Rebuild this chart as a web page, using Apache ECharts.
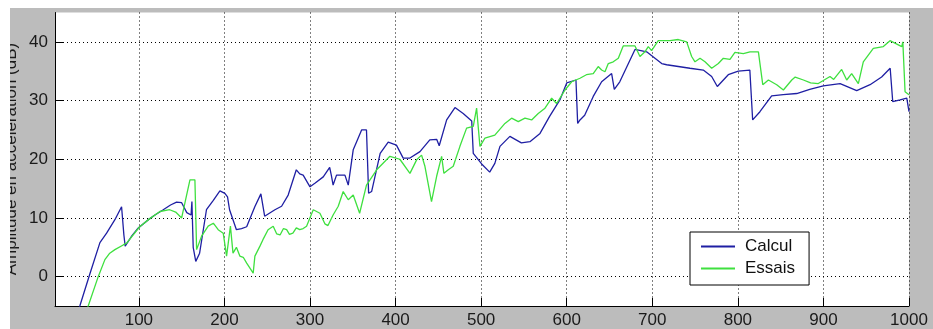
<!DOCTYPE html>
<html>
<head>
<meta charset="utf-8">
<script src="https://cdn.jsdelivr.net/npm/echarts@6/dist/echarts.min.js"></script>
<style>
  html, body { margin: 0; padding: 0; background: #ffffff; }
  #chart { position: absolute; left: 10px; top: 8px; width: 923px; height: 321px; }
</style>
</head>
<body>
<div id="chart"></div>
<script>
// Frequency (Hz) and acceleration amplitude (dB) — computed response
const calculX = [28, 31, 42.8, 54.5, 62.3, 72, 79.8, 82.5, 84, 92, 99.3, 112, 118.8, 128.5, 137, 144, 150, 156, 161, 162, 163.5, 166.5, 171, 179, 187, 194.7, 200.5, 203.6, 206, 214, 220, 226, 235.5, 242.6, 247, 259, 266.8, 274.5, 284, 288, 292, 300, 305.7, 315.5, 323, 325, 327, 331, 340.8, 344.7, 350.5, 354.5, 360.3, 366, 368.5, 372, 382, 391.4, 401, 408.9, 416.8, 428.5, 440, 448, 451, 459.7, 469.4, 479, 489, 490.8, 500.6, 510, 516, 522, 533.6, 547, 557, 568.8, 580, 592, 600, 610.8, 612.8, 615.5, 621, 631, 640.8, 652.5, 655.6, 662, 679.8, 693.4, 711, 716.8, 744, 759.6, 769.4, 776, 788.8, 800.5, 814, 817.3, 825.8, 839.5, 853, 868.8, 884, 899.8, 919.5, 938.9, 954.5, 968, 978, 981, 989.6, 997.4, 1000];
const calculY = [-6.3, -5, 0.5, 5.8, 7.4, 9.7, 11.9, 7.1, 5.2, 7, 8.3, 9.8, 10.5, 11.4, 12.2, 12.7, 12.6, 10.9, 10.5, 12.8, 5, 2.6, 4, 11.4, 13, 14.6, 14.2, 13.6, 11.4, 8, 8.2, 8.5, 11.9, 14.1, 10.3, 11.4, 12, 13.9, 18.2, 17.5, 17.3, 15.3, 15.9, 17, 18.6, 17.2, 15.6, 17.3, 17.3, 15.6, 21.6, 23, 25, 25, 14.2, 14.5, 21, 22.9, 22.4, 20.2, 20.2, 21.3, 23.3, 23.4, 22.3, 26.7, 28.8, 27.8, 26.5, 21, 19.2, 17.8, 19.3, 22.2, 23.9, 22.8, 23, 24.4, 27.3, 30.1, 33, 33.5, 26.1, 26.7, 27.5, 30.7, 33.2, 34.6, 31.9, 33.2, 38.7, 38.3, 36.3, 36.1, 35.5, 35.2, 34.1, 32.4, 34.4, 35, 35.2, 26.7, 28.1, 30.8, 31, 31.2, 31.9, 32.5, 32.9, 31.7, 32.7, 34, 35.5, 29.8, 30.1, 30.4, 28.1];

// Measured response
const essaisX = [38, 40.8, 52.5, 60.3, 66, 72, 81.7, 85.7, 101, 112, 124.6, 136, 143, 150, 159.7, 165.5, 167.5, 173.3, 181, 187, 192.7, 198.6, 202.5, 207, 210, 214, 218, 222, 226, 230, 233.6, 235.6, 241.5, 245, 251, 257, 261, 265, 269, 272.7, 276, 280, 284, 288, 292, 296, 303.8, 311.6, 317.4, 321, 327, 333, 338.8, 344.7, 350.5, 358, 366, 377.9, 393.4, 405, 416.8, 424.6, 430.4, 434.3, 442, 448, 453.8, 456.5, 461.6, 467.4, 475.2, 483, 490.8, 494.7, 496.6, 498.6, 504.4, 516, 527.8, 535.6, 543.4, 551.2, 559, 566.7, 574.6, 582.4, 588.2, 598, 605.8, 615.5, 623, 631, 636.8, 640.8, 644.7, 648.6, 654.4, 660.3, 666, 679.8, 685.6, 691.4, 695.3, 699.2, 707, 720.7, 730.4, 740.2, 746, 749.9, 755.8, 761.6, 769.4, 777.2, 783, 790.8, 796.6, 806.4, 814.2, 824, 829.1, 835.7, 845.4, 853.2, 863, 867, 876.6, 885, 894, 907.7, 912, 921.3, 927.2, 933, 940.8, 946.6, 958.3, 970, 977.8, 991.5, 992.8, 995.4, 1000];
const essaisY = [-6.3, -5, 0, 2.9, 4, 4.6, 5.4, 5.7, 8.5, 9.8, 11.1, 11.4, 11, 10, 16.5, 16.5, 4.6, 6.9, 8.6, 9.1, 8, 7.4, 3.5, 8.6, 4, 5, 3.5, 3.3, 2.3, 1.4, 0.6, 3.5, 5.2, 6.3, 8, 8.6, 7.3, 7.1, 8.2, 8, 7.2, 7.4, 8.3, 8, 8.2, 8.6, 11.4, 10.8, 9, 8.7, 10.5, 12, 14.5, 13.1, 13.9, 10.8, 15.6, 18.2, 20.5, 20, 17.6, 19.9, 20.7, 18.8, 12.8, 17.1, 20.5, 17.6, 18.2, 18.8, 22.2, 25.3, 25.6, 28.7, 25.5, 22.2, 23.6, 24.1, 26.1, 27, 26.4, 27, 26.7, 27.8, 28.7, 30.4, 29.5, 31.8, 33.2, 33.8, 34.4, 34.6, 35.8, 35.2, 34.9, 36.3, 36.6, 37.2, 39.3, 39.3, 37.5, 38.3, 39.2, 38.5, 40.2, 40.2, 40.4, 40, 37.5, 36.6, 37.2, 36.6, 35.5, 36.3, 37.2, 37, 38.2, 38, 38.3, 38.3, 32.7, 33.5, 32.7, 31.8, 33.5, 34, 33.5, 33, 32.9, 34.1, 33.6, 35.3, 33.5, 34.6, 32.9, 36.6, 38.9, 39.2, 40.2, 39.2, 40, 31.5, 31];

// Tick values
const xTicks = [100, 200, 300, 400, 500, 600, 700, 800, 900, 1000];
const yTicks = [0, 10, 20, 30, 40];

const seriesNames = ['Calcul', 'Essais'];
const yAxisTitle = 'Amplitude en accélération (dB)';

const pairs = (xs, ys) => xs.map((x, i) => [x, ys[i]]);
const FONT = '"Liberation Sans", Arial, Helvetica, sans-serif';
const gridDots = { color: '#000000', width: 1, type: [1, 3] };
const plain = v => String(v);

const chart = echarts.init(document.getElementById('chart'), null, { renderer: 'canvas' });
chart.setOption({
  animation: false,
  backgroundColor: '#bcbcbc',
  grid: {
    left: 45, right: 24, top: 4.5, bottom: 22.5,
    show: true, backgroundColor: '#ffffff', borderWidth: 0
  },
  xAxis: {
    type: 'value', min: 2, max: 1000,
    axisLine: { show: true, onZero: false, lineStyle: { color: '#000000', width: 1 } },
    axisTick: { show: true, inside: true, length: 8, customValues: xTicks, lineStyle: { color: '#000000' } },
    axisLabel: { customValues: xTicks, formatter: plain, color: '#1a1a1a', fontSize: 17, fontFamily: FONT, margin: 6 },
    splitLine: { show: true, customValues: xTicks, lineStyle: gridDots }
  },
  yAxis: {
    type: 'value', min: -5, max: 45,
    axisLine: { show: true, onZero: false, lineStyle: { color: '#000000', width: 1 } },
    axisTick: { show: true, inside: true, length: 8, customValues: yTicks, lineStyle: { color: '#000000' } },
    axisLabel: { customValues: yTicks, formatter: plain, color: '#1a1a1a', fontSize: 17, fontFamily: FONT, margin: 7 },
    splitLine: { show: true, customValues: yTicks, lineStyle: gridDots }
  },
  legend: {
    orient: 'vertical',
    left: 680, top: 224,
    backgroundColor: '#ffffff',
    borderColor: '#000000', borderWidth: 1, borderRadius: 0,
    padding: [6, 14, 8, 10],
    itemWidth: 34, itemHeight: 14, itemGap: 5,
    itemStyle: { opacity: 0 },
    textStyle: { fontSize: 17, color: '#111111', fontFamily: FONT, padding: [0, 0, 0, 5] },
    data: seriesNames
  },
  graphic: [{
    type: 'text',
    x: 9.5, y: 151,
    rotation: Math.PI / 2,
    style: {
      text: yAxisTitle,
      font: '17px ' + FONT,
      fill: '#1a1a1a',
      align: 'center',
      verticalAlign: 'bottom'
    }
  }],
  series: [
    {
      name: seriesNames[0], type: 'line', symbol: 'none', clip: true,
      lineStyle: { color: '#1f1fa3', width: 1.3 }, itemStyle: { color: '#1f1fa3' },
      data: pairs(calculX, calculY)
    },
    {
      name: seriesNames[1], type: 'line', symbol: 'none', clip: true,
      lineStyle: { color: '#3fe03f', width: 1.3 }, itemStyle: { color: '#3fe03f' },
      data: pairs(essaisX, essaisY)
    }
  ]
});
</script>
</body>
</html>
